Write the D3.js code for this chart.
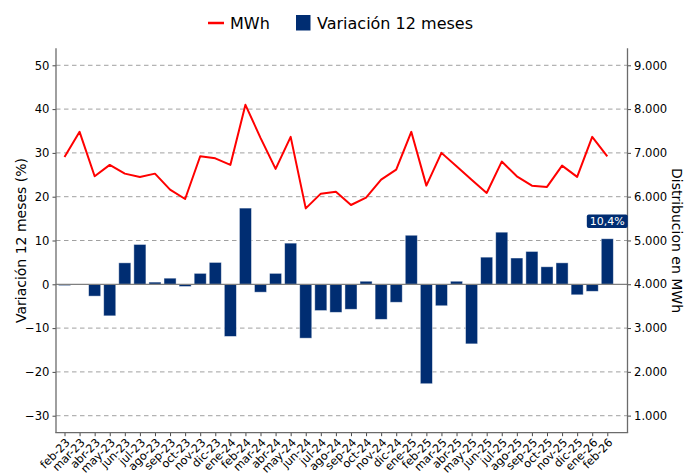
<!DOCTYPE html>
<html>
<head>
<meta charset="utf-8">
<script src="https://cdn.jsdelivr.net/npm/d3@7/dist/d3.min.js"></script>
<style>
  html, body { margin: 0; padding: 0; background: #fff; }
  svg { display: block; font-family: "DejaVu Sans", sans-serif; }
</style>
</head>
<body>
<svg id="chart" width="687" height="476"></svg>
<script>
const months = ["feb-23","mar-23","abr-23","may-23","jun-23","jul-23","ago-23","sep-23","oct-23","nov-23","dic-23",
  "ene-24","feb-24","mar-24","abr-24","may-24","jun-24","jul-24","ago-24","sep-24","oct-24","nov-24","dic-24",
  "ene-25","feb-25","mar-25","abr-25","may-25","jun-25","jul-25","ago-25","sep-25","oct-25","nov-25","dic-25",
  "ene-26","feb-26"];
const variacion = [-0.3, 0.0, -2.7, -7.2, 4.9, 9.1, 0.5, 1.4, -0.5, 2.5, 5.0,
  -11.9, 17.4, -1.8, 2.5, 9.4, -12.3, -6.0, -6.4, -5.7, 0.7, -8.0, -4.1,
  11.2, -22.7, -4.9, 0.7, -13.6, 6.2, 11.9, 6.0, 7.5, 4.0, 4.9, -2.4,
  -1.6, 10.4];
const mwh = [6908, 7480, 6465, 6725, 6526, 6451, 6526, 6160, 5947, 6922, 6876,
  6725, 8098, 7343, 6634, 7366, 5732, 6069, 6114, 5810, 5977, 6389, 6618,
  7480, 6252, 7000, 6695, 6389, 6085, 6801, 6465, 6252, 6222, 6709, 6451,
  7366, 6922];
const leftTicks = [-30, -20, -10, 0, 10, 20, 30, 40, 50];
const rightTicks = [1000, 2000, 3000, 4000, 5000, 6000, 7000, 8000, 9000];
const lastLabel = "10,4%";

const NAVY = "#002D72", RED = "#ff0000";
const svg = d3.select("#chart");
const L = 56, R = 627.5, T = 48.3, B = 432.7;

const x = d3.scaleLinear().domain([-0.564, 37.34]).range([L, R]);
const yL = d3.scaleLinear().domain([-33.88, 53.88]).range([B, T]);
const yR = d3.scaleLinear().domain([610, 9388]).range([B, T]);
const step = x(1) - x(0);
const bw = step * 0.8;

// grid
const grid = svg.append("g");
leftTicks.filter(t => t !== 0).forEach(t => {
  grid.append("line").attr("x1", L).attr("x2", R).attr("y1", yL(t)).attr("y2", yL(t))
    .attr("stroke", "#a0a0a0").attr("stroke-width", 1).attr("stroke-dasharray", "4.5,3.5");
});

// bars
svg.append("g").selectAll("rect").data(variacion).join("rect")
  .attr("x", (d, i) => x(i) - bw / 2)
  .attr("width", bw)
  .attr("y", d => yL(Math.max(0, d)))
  .attr("height", d => Math.abs(yL(d) - yL(0)))
  .attr("fill", NAVY)
  .attr("stroke", "rgba(255,255,255,0.55)")
  .attr("stroke-width", 0.8);

// zero line
svg.append("line").attr("x1", L).attr("x2", R).attr("y1", yL(0)).attr("y2", yL(0))
  .attr("stroke", "#7f7f7f").attr("stroke-width", 1.2);

// line
const line = d3.line().x((d, i) => x(i)).y(d => yR(d));
svg.append("path").datum(mwh).attr("d", line)
  .attr("fill", "none").attr("stroke", RED).attr("stroke-width", 2)
  .attr("stroke-linejoin", "round").attr("stroke-linecap", "butt");

// axes
const axisL = d3.axisLeft(yL).tickValues(leftTicks).tickSize(3.5).tickPadding(3)
  .tickFormat(d => d < 0 ? "\u2212" + Math.abs(d) : String(d));
const axisR = d3.axisRight(yR).tickValues(rightTicks).tickSize(3.5).tickPadding(3)
  .tickFormat(d => d3.format(",")(d).replace(/,/g, "."));
const axisB = d3.axisBottom(x).tickValues(d3.range(months.length)).tickSize(3.5).tickFormat(() => "");

function styleAxis(g) {
  g.select(".domain").remove();
  g.selectAll(".tick line").attr("stroke", "#333").attr("stroke-width", 0.9);
  g.selectAll(".tick text").attr("fill", "#000").style("font-size", "11.6px")
    .style("font-family", "DejaVu Sans, sans-serif");
}
svg.append("g").attr("transform", `translate(${L},0)`).call(axisL).call(styleAxis);
svg.append("g").attr("transform", `translate(${R},0)`).call(axisR).call(styleAxis);
svg.append("g").attr("transform", `translate(0,${B})`).call(axisB).call(styleAxis);

// x labels rotated
svg.append("g").selectAll("text").data(months).join("text")
  .attr("transform", (d, i) => `translate(${x(i)},${B + 4.5}) rotate(-45)`)
  .attr("text-anchor", "end").attr("dy", "0.76em")
  .style("font-size", "11.3px").attr("fill", "#000")
  .text(d => d);

// spines
const sp = svg.append("g").attr("stroke", "#6b6b6b").attr("stroke-width", 1.3).attr("fill", "none");
sp.append("line").attr("x1", L).attr("x2", L).attr("y1", T).attr("y2", B);
sp.append("line").attr("x1", R).attr("x2", R).attr("y1", T).attr("y2", B);
sp.append("line").attr("x1", L - 0.65).attr("x2", R + 0.65).attr("y1", B).attr("y2", B);

// last label box
const li = months.length - 1;
const lx = x(li), ly = yL(variacion[li]) - 17.5;
const lg = svg.append("g");
const lt = lg.append("text").attr("x", lx).attr("y", ly).attr("text-anchor", "middle")
  .attr("dominant-baseline", "central").attr("fill", "#fff").style("font-size", "11px").text(lastLabel);
const bb = lt.node().getBBox();
lg.insert("rect", "text").attr("x", bb.x - 3).attr("y", ly - 6.8).attr("width", bb.width + 6).attr("height", 13.6)
  .attr("rx", 2).attr("fill", NAVY);

// axis titles
svg.append("text").attr("transform", `translate(26,${(T + B) / 2}) rotate(-90)`)
  .attr("text-anchor", "middle").style("font-size", "14px").attr("fill", "#000")
  .text("Variación 12 meses (%)");
svg.append("text").attr("transform", `translate(672,${(T + B) / 2}) rotate(90)`)
  .attr("text-anchor", "middle").style("font-size", "14px").attr("fill", "#000")
  .text("Distribucion en MWh");

// legend
const lgd = svg.append("g");
lgd.append("line").attr("x1", 208).attr("x2", 224).attr("y1", 23).attr("y2", 23)
  .attr("stroke", RED).attr("stroke-width", 2.5);
lgd.append("text").attr("x", 230).attr("y", 29).style("font-size", "16px").text("MWh");
lgd.append("rect").attr("x", 296).attr("y", 15).attr("width", 14.5).attr("height", 15.5).attr("fill", NAVY);
lgd.append("text").attr("x", 317).attr("y", 29).style("font-size", "16px").text("Variación 12 meses");
</script>
</body>
</html>
